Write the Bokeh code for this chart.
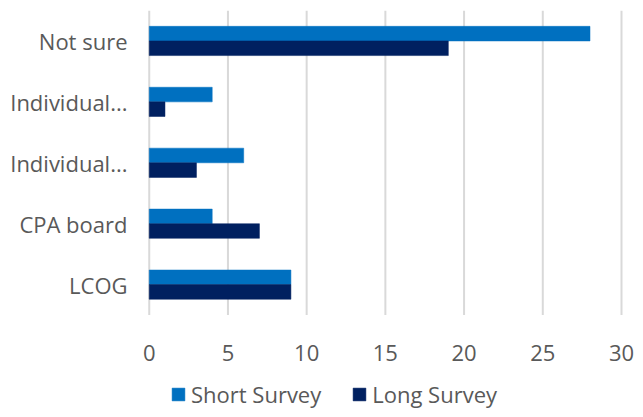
from bokeh.plotting import figure
from bokeh.models import ColumnDataSource, FixedTicker, Legend, LegendItem, Range1d
from bokeh.core.properties import value
from bokeh.embed import file_html
from bokeh.resources import INLINE

# Data (categories listed bottom to top, as drawn)
categories = ["LCOG", "CPA board", "Individual...", "Individual...", "Not sure"]
short_survey = [9, 4, 6, 4, 28]
long_survey = [9, 7, 3, 1, 19]
x_ticks = [0, 5, 10, 15, 20, 25, 30]

SHORT_COLOR = "#0070C0"
LONG_COLOR = "#002060"
TEXT_COLOR = "#595959"
GRID_COLOR = "#D9D9D9"
FONT = "Open Sans"
BAR_H = 0.24

# layout constants (data-space extent of the frame, so that tick labels and
# legend sit inside the frame below the category bands)
Y_TOP = len(categories) - 0.5
Y_BOTTOM = -2.05
X_LEFT = -1.0
X_RIGHT = 30.89
TICK_LABEL_Y = -1.116

pos = list(range(len(categories)))
src = ColumnDataSource(dict(
    y_short=[p_ + BAR_H / 2 for p_ in pos],
    y_long=[p_ - BAR_H / 2 for p_ in pos],
    short=short_survey,
    long=long_survey,
))

p = figure(width=635, height=409, output_backend="svg", toolbar_location=None,
           x_range=Range1d(X_LEFT, X_RIGHT), y_range=Range1d(Y_BOTTOM, Y_TOP),
           x_axis_location=None,
           min_border_left=133, min_border_right=0, min_border_top=10, min_border_bottom=0)
p.outline_line_color = None
p.background_fill_color = "white"
p.border_fill_color = "white"
p.xgrid.grid_line_color = None
p.ygrid.grid_line_color = None

# vertical gridlines, spanning only the category bands
p.segment(x0=x_ticks, x1=x_ticks, y0=[-0.5] * len(x_ticks), y1=[Y_TOP] * len(x_ticks),
          line_color=GRID_COLOR, line_width=2)

r_short = p.hbar(y="y_short", right="short", left=0, height=BAR_H, source=src,
                 fill_color=SHORT_COLOR, line_color=SHORT_COLOR, line_width=0.5)
r_long = p.hbar(y="y_long", right="long", left=0, height=BAR_H, source=src,
                fill_color=LONG_COLOR, line_color=LONG_COLOR, line_width=0.5)

# x tick labels
p.text(x=x_ticks, y=[TICK_LABEL_Y] * len(x_ticks), text=[str(t) for t in x_ticks],
       text_font=value(FONT), text_font_size="22px", text_color=TEXT_COLOR,
       text_align="center", text_baseline="middle")

# y axis
p.yaxis.ticker = FixedTicker(ticks=pos)
p.yaxis.major_label_overrides = {i: c for i, c in enumerate(categories)}
p.yaxis.axis_line_color = None
p.yaxis.major_tick_line_color = None
p.yaxis.minor_tick_line_color = None
p.yaxis.major_tick_out = 0
p.yaxis.major_tick_in = 0
p.yaxis.major_label_text_font = FONT
p.yaxis.major_label_text_font_size = "22px"
p.yaxis.major_label_text_color = TEXT_COLOR
p.yaxis.major_label_standoff = 6

legend = Legend(items=[LegendItem(label="Short Survey", renderers=[r_short]),
                       LegendItem(label="Long Survey", renderers=[r_long])],
                orientation="horizontal", location=(37, 0),
                glyph_width=16, glyph_height=16, label_standoff=5, spacing=30,
                padding=0, margin=0, border_line_color=None, background_fill_alpha=0,
                label_text_font=FONT, label_text_font_size="22px", label_text_color=TEXT_COLOR)
p.add_layout(legend, "center")

open("out.html", "w").write(file_html(p, INLINE))
